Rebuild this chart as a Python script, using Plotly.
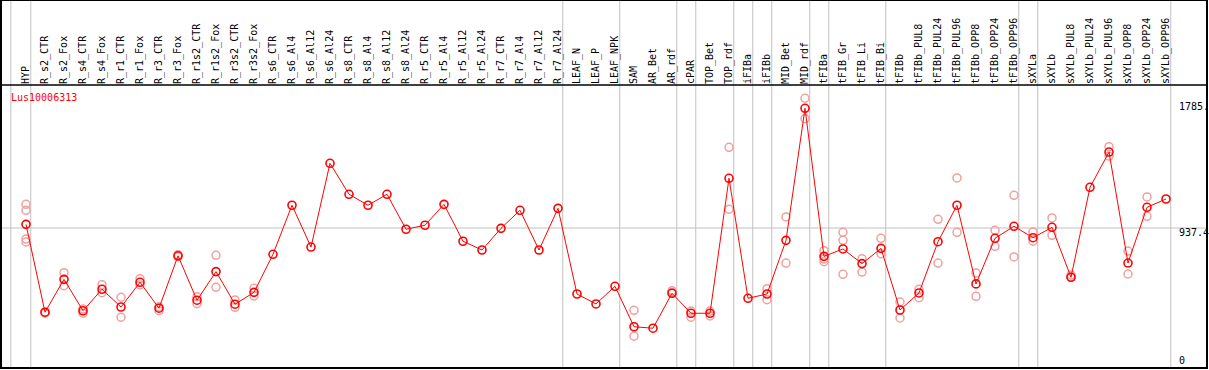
import plotly.graph_objects as go

categories = ["HYP", "R_s2_CTR", "R_s2_Fox", "R_s4_CTR", "R_s4_Fox", "R_r1_CTR", "R_r1_Fox",
              "R_r3_CTR", "R_r3_Fox", "R_r1s2_CTR", "R_r1s2_Fox", "R_r3s2_CTR", "R_r3s2_Fox",
              "R_s6_CTR", "R_s6_Al4", "R_s6_Al12", "R_s6_Al24", "R_s8_CTR", "R_s8_Al4", "R_s8_Al12",
              "R_s8_Al24", "R_r5_CTR", "R_r5_Al4", "R_r5_Al12", "R_r5_Al24", "R_r7_CTR", "R_r7_Al4",
              "R_r7_Al12", "R_r7_Al24", "LEAF_N", "LEAF_P", "LEAF_NPK", "SAM", "AR_Bet", "AR_rdf",
              "cPAR", "TOP_Bet", "TOP_rdf", "iFIBa", "iFIBb", "MID_Bet", "MID_rdf", "tFIBa",
              "tFIB_Gr", "tFIB_Li", "tFIB_Bi", "tFIBb", "tFIBb_PUL8", "tFIBb_PUL24", "tFIBb_PUL96",
              "tFIBb_OPP8", "tFIBb_OPP24", "tFIBb_OPP96", "sXYLa", "sXYLb", "sXYLb_PUL8",
              "sXYLb_PUL24", "sXYLb_PUL96", "sXYLb_OPP8", "sXYLb_OPP24", "sXYLb_OPP96"]

mean_values = [962, 369, 591, 379, 524, 404, 571, 396, 750, 450, 643, 423, 503,
               760, 1091, 809, 1374, 1165, 1091, 1165, 929, 956, 1097, 848, 789, 935, 1057,
               789, 1070, 492, 425, 544, 271, 261, 497, 362, 362, 1273, 463, 492, 854, 1745,
               746, 796, 697, 800, 384, 499, 845, 1091, 560, 868, 949, 872, 942, 605, 1212,
               1450, 701, 1077, 1133]

rep_category = ["HYP", "HYP", "HYP", "HYP",
                "R_s2_CTR", "R_s2_CTR", "R_s2_Fox", "R_s2_Fox", "R_s4_CTR", "R_s4_CTR",
                "R_s4_Fox", "R_s4_Fox", "R_r1_CTR", "R_r1_CTR", "R_r1_Fox", "R_r1_Fox",
                "R_r3_CTR", "R_r3_CTR", "R_r3_Fox", "R_r3_Fox", "R_r1s2_CTR", "R_r1s2_CTR",
                "R_r1s2_Fox", "R_r1s2_Fox", "R_r3s2_CTR", "R_r3s2_CTR", "R_r3s2_Fox", "R_r3s2_Fox",
                "SAM", "SAM", "AR_rdf", "AR_rdf", "cPAR", "cPAR", "TOP_Bet", "TOP_Bet",
                "TOP_rdf", "TOP_rdf", "iFIBb", "iFIBb", "MID_Bet", "MID_Bet", "MID_rdf", "MID_rdf",
                "tFIBa", "tFIBa", "tFIBa", "tFIB_Gr", "tFIB_Gr", "tFIB_Gr", "tFIB_Li", "tFIB_Li",
                "tFIB_Bi", "tFIB_Bi", "tFIBb", "tFIBb", "tFIBb_PUL8", "tFIBb_PUL8",
                "tFIBb_PUL24", "tFIBb_PUL24", "tFIBb_PUL96", "tFIBb_PUL96", "tFIBb_OPP8", "tFIBb_OPP8",
                "tFIBb_OPP24", "tFIBb_OPP24", "tFIBb_OPP96", "tFIBb_OPP96", "sXYLa", "sXYLa",
                "sXYLb", "sXYLb", "sXYLb_PUL8", "sXYLb_PUL8", "sXYLb_PUL96", "sXYLb_PUL96",
                "sXYLb_OPP8", "sXYLb_OPP8", "sXYLb_OPP24", "sXYLb_OPP24"]

rep_values = [1097, 1057, 863, 843,
              369, 362, 636, 548, 391, 362,
              555, 501, 470, 335, 595, 553,
              406, 379, 757, 744, 474, 427,
              753, 537, 452, 402, 530, 479,
              382, 207, 514, 503, 377, 335, 377, 344,
              1482, 1064, 528, 454, 1012, 701, 1813, 1675,
              784, 728, 710, 908, 854, 625, 730, 640,
              868, 764, 438, 330, 524, 467,
              996, 701, 1275, 908, 634, 476,
              922, 814, 1158, 742, 910, 848,
              1005, 888, 620, 605, 1486, 1423,
              782, 627, 1147, 1016]

# group separators: drawn just right of these category labels
separator_after = ["HYP", "R_r7_Al24", "LEAF_NPK", "AR_rdf", "cPAR", "TOP_rdf", "iFIBa", "iFIBb",
                   "MID_rdf", "tFIBa", "tFIB_Bi", "tFIBb_OPP96", "sXYLa", "sXYLb_OPP96"]

y_tick_values = [1785, 937.4, 0]
y_tick_labels = ["1785.", "937.4", "0"]
y_tick_shift = [-4, -4, 6]
gene_name = "Lus10006313"

MONO = "DejaVu Sans Mono"
idx = {c: i for i, c in enumerate(categories)}

fig = go.Figure()
fig.add_trace(go.Scatter(
    x=[idx[c] for c in rep_category], y=rep_values, mode="markers",
    marker=dict(symbol="circle-open", size=8, color="#f0a0a0", line=dict(width=1.5, color="#f0a0a0")),
    showlegend=False, hoverinfo="skip"))
fig.add_trace(go.Scatter(
    x=list(range(len(categories))), y=mean_values, mode="lines+markers",
    line=dict(color="#ff0000", width=1),
    marker=dict(symbol="circle-open", size=8, color="#ff0000", line=dict(width=1.6, color="#ff0000")),
    showlegend=False))

W, H = 1209, 370
ml, mr, mt, mb = 1, 2, 85, 2
plot_h = H - mt - mb
top_paper = 1 + mt / plot_h

shapes = []
sep_x = [-0.8] + [idx[c] + 0.25 for c in separator_after]
for sx in sep_x:
    shapes.append(dict(type="line", xref="x", yref="paper", x0=sx, x1=sx, y0=0, y1=top_paper,
                       line=dict(color="#c0c0c0", width=1), layer="below"))
shapes.append(dict(type="line", xref="paper", yref="y", x0=0, x1=1, y0=y_tick_values[1], y1=y_tick_values[1],
                   line=dict(color="#c0c0c0", width=1), layer="below"))
shapes.append(dict(type="rect", xref="paper", yref="paper", x0=0, x1=1, y0=0, y1=top_paper,
                   line=dict(color="black", width=2)))
shapes.append(dict(type="line", xref="paper", yref="paper", x0=0, x1=1, y0=1, y1=1,
                   line=dict(color="black", width=1.5)))

annotations = []
for v, t, s in zip(y_tick_values, y_tick_labels, y_tick_shift):
    annotations.append(dict(x=(1177 - ml) / (W - ml - mr), xref="paper", y=v, yref="y", text=t,
                            showarrow=False, xanchor="left", yanchor="middle", yshift=s,
                            font=dict(family=MONO, size=10, color="black")))
annotations.append(dict(x=(9 - ml) / (W - ml - mr), xref="paper", y=1, yref="paper", text=gene_name,
                        showarrow=False, xanchor="left", yanchor="top", yshift=-5,
                        font=dict(family=MONO, size=10, color="#ff0000")))

px_per_cat = 19
first_px = 26
x0 = -(first_px - ml) / px_per_cat
x1 = x0 + (W - ml - mr) / px_per_cat

fig.update_layout(
    width=W, height=H,
    margin=dict(l=ml, r=mr, t=mt, b=mb, pad=0),
    paper_bgcolor="white", plot_bgcolor="white",
    shapes=shapes, annotations=annotations,
    xaxis=dict(range=[x0, x1], side="top", tickmode="array",
               tickvals=list(range(len(categories))), ticktext=categories,
               tickangle=-90, tickfont=dict(family=MONO, size=10, color="black"),
               showgrid=False, zeroline=False, showline=False, ticks="", ticklen=0),
    yaxis=dict(range=[-7.4, 1902.4], showticklabels=False, showgrid=False, zeroline=False,
               showline=False, ticks=""),
)

fig.write_html("out.html", config={"displayModeBar": False},
               post_script="document.body.style.margin='0';document.body.style.overflow='hidden';")
